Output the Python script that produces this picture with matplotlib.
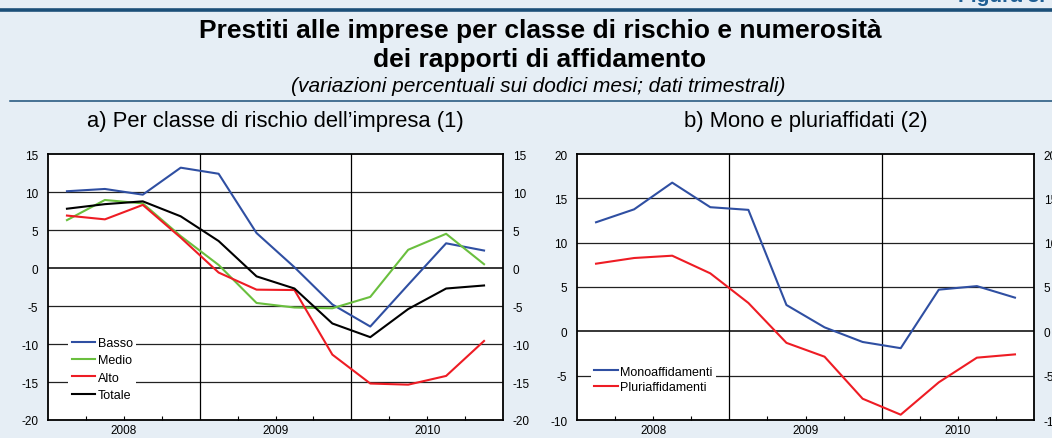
import matplotlib
matplotlib.use("Agg")
import matplotlib.pyplot as plt
import numpy as np

plt.rcParams['font.family'] = ['Liberation Sans', 'DejaVu Sans']

# ---- data (quarterly, 2008Q1 .. 2010Q4) ----
quarters = ["2008Q1", "2008Q2", "2008Q3", "2008Q4",
            "2009Q1", "2009Q2", "2009Q3", "2009Q4",
            "2010Q1", "2010Q2", "2010Q3", "2010Q4"]
years = ["2008", "2009", "2010"]

basso = [10.1, 10.4, 9.65, 13.2, 12.4, 4.6, 0.1, -4.8, -7.7, -2.2, 3.25, 2.3]
medio = [6.3, 8.95, 8.5, 4.2, 0.4, -4.6, -5.2, -5.3, -3.8, 2.4, 4.5, 0.5]
alto = [6.9, 6.4, 8.3, 4.0, -0.6, -2.85, -2.9, -11.4, -15.2, -15.35, -14.2, -9.6]
totale = [7.8, 8.4, 8.77, 6.8, 3.55, -1.1, -2.7, -7.3, -9.1, -5.4, -2.7, -2.3]

mono = [12.3, 13.76, 16.77, 14.0, 13.7, 2.97, 0.45, -1.2, -1.9, 4.7, 5.1, 3.8]
pluri = [7.63, 8.27, 8.53, 6.54, 3.2, -1.3, -2.86, -7.6, -9.4, -5.75, -2.97, -2.6]

labels_a = ["Basso", "Medio", "Alto", "Totale"]
labels_b = ["Monoaffidamenti", "Pluriaffidamenti"]

title1 = "Prestiti alle imprese per classe di rischio e numerosità"
title2 = "dei rapporti di affidamento"
subtitle = "(variazioni percentuali sui dodici mesi; dati trimestrali)"
panel_a = "a) Per classe di rischio dell\u2019impresa (1)"
panel_b = "b) Mono e pluriaffidati (2)"

# ---- style ----
BG = "#e6eef5"
NAVY = "#1b4f78"
BLUE = "#2f4fa2"
GREEN = "#6abf3e"
RED = "#ee1c24"
BLACK = "#000000"

W, H = 1052, 439
fig = plt.figure(figsize=(W / 100, H / 100), dpi=100, facecolor=BG)


def fx(px):
    return px / W


def fy(py):
    return 1 - py / H


# header lines and texts
fig.add_artist(plt.Line2D([fx(0), fx(W)], [fy(11), fy(11)], color=NAVY, lw=2.6))
fig.add_artist(plt.Line2D([fx(10), fx(W)], [fy(102), fy(102)], color=NAVY, lw=1.1))
fig.text(fx(958), fy(2.5), "Figura 8.", color="#1f5f94", fontsize=15, fontweight="bold",
         ha="left", va="baseline")
fig.text(fx(540), fy(38), title1, fontsize=19, fontweight="bold", ha="center", va="baseline")
fig.text(fx(540), fy(67), title2, fontsize=19, fontweight="bold", ha="center", va="baseline")
fig.text(fx(538), fy(92), subtitle, fontsize=15, style="italic", ha="center", va="baseline")
fig.text(fx(275), fy(127), panel_a, fontsize=15.8, ha="center", va="baseline")
fig.text(fx(806), fy(127), panel_b, fontsize=15.8, ha="center", va="baseline")

x = np.arange(len(quarters)) + 0.5


def setup(ax, ylim, step):
    ax.set_facecolor("white")
    ax.set_xlim(0, 12)
    ax.set_ylim(*ylim)
    yt = np.arange(ylim[0], ylim[1] + 0.1, step)
    ax.set_yticks(yt)
    ax.set_yticklabels([f"{int(v)}" for v in yt])
    for v in yt[1:-1]:
        ax.axhline(v, color="#222222" if v != 0 else "black", lw=0.9 if v != 0 else 1.1, zorder=1)
    for v in (4, 8):
        ax.axvline(v, color="black", lw=0.9, zorder=1)
    ax.set_xticks([2, 6, 10])
    ax.set_xticklabels(years)
    ax.set_xticks([1, 3, 5, 7, 9, 11], minor=True)
    ax.tick_params(axis="x", which="both", direction="in", length=3, width=0.8,
                   labelsize=8.5, pad=3, colors="black")
    ax.tick_params(axis="y", length=0, labelsize=8.5, pad=7, labelright=True)
    for s in ax.spines.values():
        s.set_linewidth(1.3)
        s.set_color("black")


ax1 = fig.add_axes([fx(48), fy(421), fx(455), 266 / H])
setup(ax1, (-20, 15), 5)
for y, c, l in zip([basso, medio, alto, totale], [BLUE, GREEN, RED, BLACK], labels_a):
    ax1.plot(x, y, color=c, lw=1.5, label=l, zorder=3)
leg1 = ax1.legend(loc="lower left", bbox_to_anchor=(0.045, 0.06), fontsize=9,
                  frameon=True, facecolor="white", edgecolor="none", framealpha=1,
                  fancybox=False, handlelength=1.9, handletextpad=0.2,
                  labelspacing=0.42, borderpad=0.25, borderaxespad=0)
leg1.set_zorder(2)

ax2 = fig.add_axes([fx(577), fy(421), fx(457), 266 / H])
setup(ax2, (-10, 20), 5)
for y, c, l in zip([mono, pluri], [BLUE, RED], labels_b):
    ax2.plot(x, y, color=c, lw=1.5, label=l, zorder=3)
leg2 = ax2.legend(loc="lower left", bbox_to_anchor=(0.03, 0.09), fontsize=9,
                  frameon=True, facecolor="white", edgecolor="none", framealpha=1,
                  fancybox=False, handlelength=1.9, handletextpad=0.2,
                  labelspacing=0.25, borderpad=0.25, borderaxespad=0)
leg2.set_zorder(2)

fig.savefig("out.png", dpi=100, facecolor=BG)
